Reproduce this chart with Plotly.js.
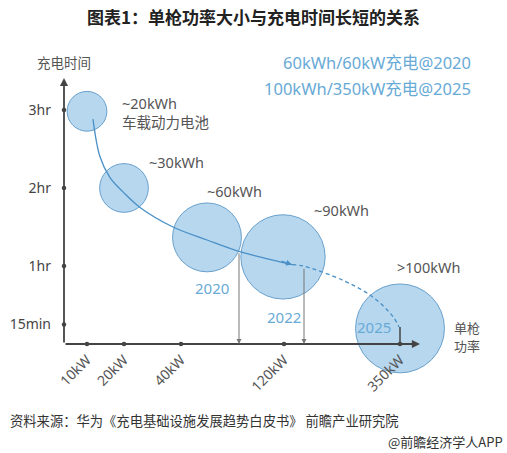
<!DOCTYPE html>
<html>
<head>
<meta charset="utf-8">
<script src="https://cdn.plot.ly/plotly-3.0.1.min.js"></script>
<style>html,body{margin:0;padding:0;background:#fff;}#chart{width:507px;height:453px;}</style>
</head>
<body>
<div id="chart"></div>
<script>
// ---- data (schematic) ----
var powerLabels = ['10kW', '20kW', '40kW', '120kW', '350kW'];
var powerPos = [23, 60, 117, 220, 336];          // schematic positions along the power axis
var timeLabels = ['3hr', '2hr', '1hr', '15min'];
var timeMin = [180, 120, 60, 15];                // minutes

var batteryLabels = ['~20kWh<br>车载动力电池', '~30kWh', '~60kWh', '~90kWh', '>100kWh'];
var batteryKWh = [20, 30, 60, 90, 100];
var bubblePower = [23, 60, 143, 219, 336];
var bubbleTime = [179, 120, 82, 67, 12];

var trendPower = [29, 36, 46, 59, 76, 109, 143, 176, 228];
var trendTime = [173, 144, 128, 117, 105, 90, 80, 71, 61];
var futurePower = [228, 239, 279, 309, 329, 335];
var futureTime = [61, 60, 49, 36, 21, 13];

var yearLabels = ['2020', '2022', '2025'];
var yearPower = [175, 240, 336];
var yearTime = [71, 59, 13];

var legendLines = ['60kWh/60kW充电@2020', '100kWh/350kW充电@2025'];

// ---- styles ----
var FONT = 'Noto Sans, Noto Sans CJK SC, sans-serif';
var GREY = '#555555';
var BLUE_TXT = 'rgb(104,170,214)';
var CURVE = 'rgb(74,144,198)';

var traces = [];
traces.push({
  type: 'scatter', mode: 'markers', x: bubblePower, y: bubbleTime,
  marker: { size: batteryKWh, sizemode: 'area', sizeref: 0.0253,
            color: 'rgb(182,215,238)', opacity: 1,
            line: { color: 'rgb(104,160,204)', width: 1 } },
  cliponaxis: false, hoverinfo: 'skip'
});
traces.push({
  type: 'scatter', mode: 'lines', x: trendPower, y: trendTime,
  line: { color: CURVE, width: 1.3, shape: 'spline' }, cliponaxis: false, hoverinfo: 'skip'
});
traces.push({
  type: 'scatter', mode: 'lines', x: futurePower, y: futureTime,
  line: { color: CURVE, width: 1.3, shape: 'spline', dash: '4px,3px' }, cliponaxis: false, hoverinfo: 'skip'
});
// short stem at 2025
traces.push({
  type: 'scatter', mode: 'lines', x: [yearPower[2], yearPower[2]], y: [yearTime[2], 0],
  line: { color: '#444', width: 1.5 }, cliponaxis: false, hoverinfo: 'skip'
});
// tick dots
traces.push({
  type: 'scatter', mode: 'markers', x: powerPos, y: powerPos.map(function(){return 0;}),
  marker: { size: 4.5, color: '#444' }, cliponaxis: false, hoverinfo: 'skip'
});
traces.push({
  type: 'scatter', mode: 'markers', x: timeMin.map(function(){return 0;}), y: timeMin,
  marker: { size: 4.5, color: '#444' }, cliponaxis: false, hoverinfo: 'skip'
});

var ann = [];
// axes with arrows
ann.push({ x: 0, y: 204.6, ax: 0, ay: 0, xref: 'x', yref: 'y', axref: 'x', ayref: 'y',
  text: '', showarrow: true, arrowhead: 2, arrowsize: 0.9, arrowwidth: 1.8, arrowcolor: '#444' });
ann.push({ x: 356, y: 0, ax: 0, ay: 0, xref: 'x', yref: 'y', axref: 'x', ayref: 'y',
  text: '', showarrow: true, arrowhead: 2, arrowsize: 0.9, arrowwidth: 1.8, arrowcolor: '#444' });
// arrow at the end of the solid trend
ann.push({ x: trendPower[trendPower.length - 1], y: trendTime[trendTime.length - 1],
  ax: trendPower[trendPower.length - 2] + 40, ay: trendTime[trendTime.length - 1] + 3.2,
  xref: 'x', yref: 'y', axref: 'x', ayref: 'y',
  text: '', showarrow: true, arrowhead: 2, arrowsize: 1, arrowwidth: 1.2, arrowcolor: CURVE });
// vertical drop arrows 2020 / 2022
for (var i = 0; i < 2; i++) {
  ann.push({ x: yearPower[i], y: 0, ax: yearPower[i], ay: yearTime[i],
    xref: 'x', yref: 'y', axref: 'x', ayref: 'y',
    text: '', showarrow: true, arrowhead: 2, arrowsize: 1, arrowwidth: 1, arrowcolor: '#777' });
}
// bubble labels
var labPos = [[56, 178], [83, 140], [141, 117.7], [248, 103], [331, 59]];
for (var j = 0; j < batteryLabels.length; j++) {
  ann.push({ x: labPos[j][0], y: labPos[j][1], xref: 'x', yref: 'y', text: batteryLabels[j],
    showarrow: false, xanchor: 'left', yanchor: 'middle', align: 'left',
    font: { family: FONT, size: 14.5, color: GREY } });
}
// year labels
var yearLab = [[129, 43], [201, 20.8], [291, 13]];
for (var k = 0; k < yearLabels.length; k++) {
  ann.push({ x: yearLab[k][0], y: yearLab[k][1], xref: 'x', yref: 'y', text: yearLabels[k],
    showarrow: false, xanchor: 'left', yanchor: 'middle',
    font: { family: FONT, size: 15, color: BLUE_TXT } });
}
// axis names
ann.push({ x: 1.093, y: 0.0639, xref: 'paper', yref: 'paper', text: '单枪', showarrow: false,
  xanchor: 'left', yanchor: 'middle', borderpad: 0,
  font: { family: 'Noto Sans CJK SC', size: 13, color: GREY } });
ann.push({ x: 1.093, y: -0.0075, xref: 'paper', yref: 'paper', text: '功率', showarrow: false,
  xanchor: 'left', yanchor: 'middle', borderpad: 0,
  font: { family: 'Noto Sans CJK SC', size: 13, color: GREY } });
ann.push({ x: 0, y: 1.06, xref: 'paper', yref: 'paper', text: '充电时间', showarrow: false,
  xanchor: 'center', yanchor: 'middle', font: { family: 'Noto Sans CJK SC', size: 13.5, color: GREY } });
// legend-like notes
ann.push({ x: 1.149, y: 1.06, xref: 'paper', yref: 'paper', text: legendLines[0], showarrow: false,
  xanchor: 'right', yanchor: 'middle', font: { family: FONT, size: 16.5, color: BLUE_TXT } });
ann.push({ x: 1.149, y: 0.962, xref: 'paper', yref: 'paper', text: legendLines[1], showarrow: false,
  xanchor: 'right', yanchor: 'middle', font: { family: FONT, size: 16.5, color: BLUE_TXT } });
// source + credit
ann.push({ x: -0.157, y: -0.289, xref: 'paper', yref: 'paper',
  text: '资料来源：华为《充电基础设施发展趋势白皮书》 前瞻产业研究院', showarrow: false,
  xanchor: 'left', yanchor: 'middle', font: { family: 'Noto Sans CJK SC', size: 13.3, color: '#333' } });
ann.push({ x: 1.239, y: -0.365, xref: 'paper', yref: 'paper',
  text: '@前瞻经济学人APP', showarrow: false,
  xanchor: 'right', yanchor: 'middle', font: { family: 'Noto Sans CJK SC', size: 13, color: '#333' } });

var layout = {
  width: 507, height: 453,
  margin: { l: 64, r: 87, t: 78, b: 109, pad: 0 },
  paper_bgcolor: '#fff', plot_bgcolor: '#fff',
  showlegend: false,
  title: { text: '<b>图表1：单枪功率大小与充电时间长短的关系</b>',
    font: { family: 'Noto Sans CJK SC', size: 17, color: '#222' },
    x: 0.5, xanchor: 'center', y: 1 - 18 / 453, yref: 'container', yanchor: 'middle' },
  xaxis: { range: [0, 356], showgrid: false, zeroline: false, showline: false,
    tickvals: powerPos, ticktext: powerLabels, tickangle: -45, ticks: '',
    ticklabelstandoff: 4,
    tickfont: { family: FONT, size: 14, color: GREY }, fixedrange: true },
  yaxis: { range: [0, 204.6], showgrid: false, zeroline: false, showline: false,
    tickvals: timeMin, ticktext: timeLabels, ticks: '', ticklabelstandoff: 12,
    tickfont: { family: FONT, size: 14, color: '#444' }, fixedrange: true },
  annotations: ann
};

Plotly.newPlot('chart', traces, layout, { displayModeBar: false, staticPlot: true });
</script>
</body>
</html>
